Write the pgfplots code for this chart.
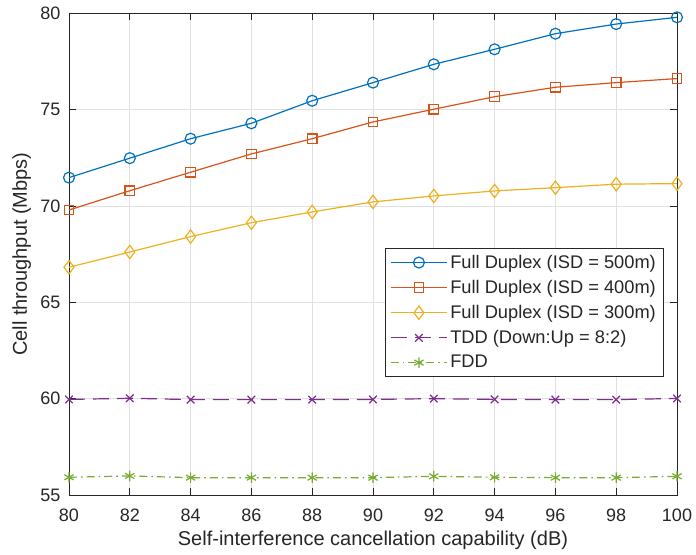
\documentclass[border=0pt]{standalone}
\usepackage{pgfplots}
\pgfplotsset{compat=1.18}
\usepackage{fontspec}
\setmainfont{Liberation Sans}
\definecolor{mblue}{rgb}{0,0.447,0.741}
\definecolor{mred}{rgb}{0.85,0.325,0.098}
\definecolor{myel}{rgb}{0.929,0.694,0.125}
\definecolor{mpur}{rgb}{0.494,0.184,0.556}
\definecolor{mgre}{rgb}{0.466,0.674,0.188}
\definecolor{axgray}{rgb}{0.15,0.15,0.15}
\begin{document}
\begin{tikzpicture}
\path[use as bounding box] (-51.75pt,-45pt) rectangle (470.25pt,371.25pt);
\begin{axis}[
  at={(0,0)}, anchor=south west,
  scale only axis, width=456pt, height=361.3pt,
  xmin=80, xmax=100, ymin=55, ymax=80,
  xtick={80,82,...,100}, ytick={55,60,...,80},
  grid=major, major grid style={color=black!12, line width=0.5pt},
  tick align=inside, major tick length=5pt,
  axis line style={axgray, line width=0.6pt},
  tick style={axgray, line width=0.6pt},
  /pgf/number format/assume math mode=true,
  ticklabel style={font=\fontsize{13.5}{16}\selectfont, text=axgray},
  xticklabel style={yshift=-7pt},
  yticklabel style={xshift=-3pt},
  label style={font=\fontsize{15}{18}\selectfont, text=axgray},
  xlabel={Self-interference cancellation capability (dB)},
  ylabel={Cell throughput (Mbps)},
  xlabel style={yshift=0pt},
  ylabel style={yshift=0pt},
  legend cell align=left,
  legend style={at={(0.979,0.245)}, anchor=south east, draw=axgray, line width=0.6pt,
    font=\fontsize{13.7}{16}\selectfont, text=axgray, row sep=3.4pt, inner xsep=4pt, inner ysep=3pt},
  legend image code/.code={\draw[mark repeat=2,mark phase=2] plot coordinates {(0cm,0cm) (0.74cm,0cm) (1.48cm,0cm)};},
  every axis plot/.append style={line width=0.9pt},
]
\addplot[color=mblue, mark=o, mark size=4.1pt, mark options={solid}] coordinates {
(80,71.47) (82,72.48) (84,73.49) (86,74.29) (88,75.46) (90,76.40) (92,77.35) (94,78.13) (96,78.94) (98,79.44) (100,79.79)};
\addlegendentry{Full Duplex (ISD = 500m)}
\addplot[color=mred, mark=square, mark size=3.6pt, mark options={solid}] coordinates {
(80,69.79) (82,70.79) (84,71.75) (86,72.70) (88,73.49) (90,74.36) (92,75.02) (94,75.67) (96,76.16) (98,76.40) (100,76.61)};
\addlegendentry{Full Duplex (ISD = 400m)}
\addplot[color=myel, mark=diamond, mark size=5pt, mark options={solid}] coordinates {
(80,66.82) (82,67.61) (84,68.41) (86,69.13) (88,69.69) (90,70.21) (92,70.52) (94,70.78) (96,70.95) (98,71.13) (100,71.16)};
\addlegendentry{Full Duplex (ISD = 300m)}
\addplot[color=mpur, mark=x, mark size=4pt, mark options={solid}, dash pattern=on 12pt off 6pt] coordinates {
(80,59.96) (82,60.02) (84,59.95) (86,59.95) (88,59.95) (90,59.96) (92,60.00) (94,59.96) (96,59.95) (98,59.95) (100,60.01)};
\addlegendentry{TDD (Down:Up = 8:2)}
\addplot[color=mgre, mark=asterisk, mark size=4pt, mark options={solid}, dash pattern=on 6pt off 3pt on 1.2pt off 3pt] coordinates {
(80,55.92) (82,55.99) (84,55.90) (86,55.90) (88,55.90) (90,55.90) (92,55.97) (94,55.92) (96,55.90) (98,55.90) (100,55.97)};
\addlegendentry{FDD}
\end{axis}
\end{tikzpicture}
\end{document}
